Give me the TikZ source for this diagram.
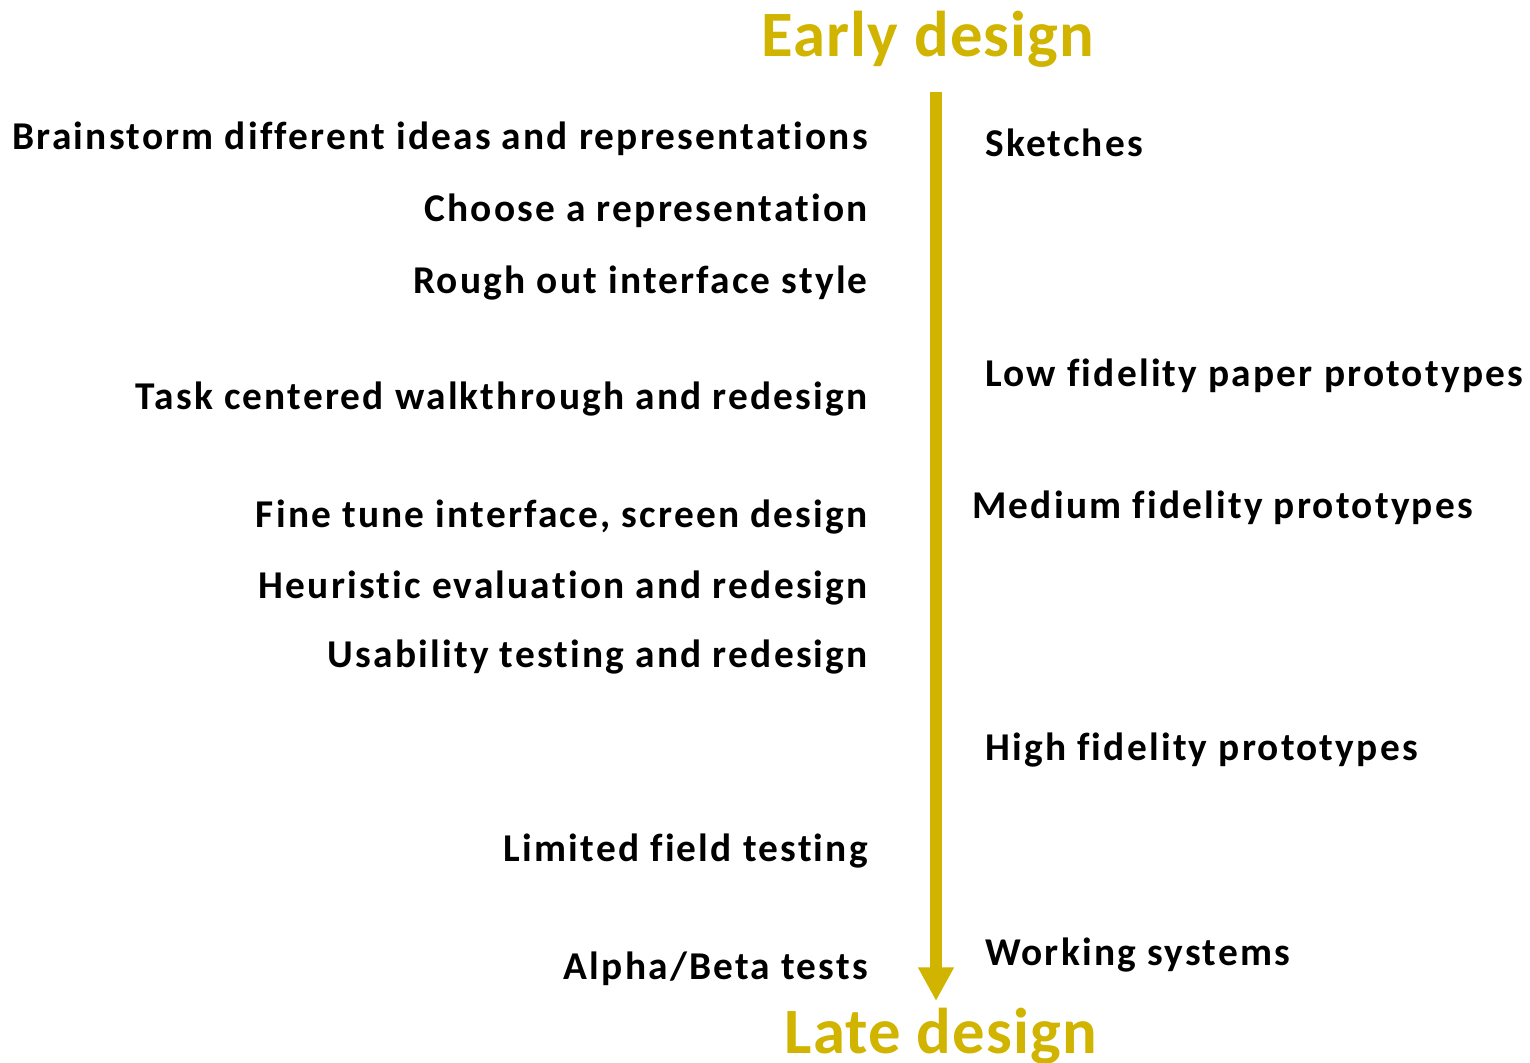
\documentclass[tikz,border=0pt]{standalone}
\usepackage{fontspec}
\setmainfont{Carlito}[Ligatures={NoCommon}]
\newfontfamily\stagefont{Carlito}[Ligatures={NoCommon}, LetterSpace=5.6]
\newfontfamily\titlefont{Carlito}[Ligatures={NoCommon}, LetterSpace=1.8]
\usetikzlibrary{arrows.meta, positioning}
\definecolor{phasegold}{HTML}{D0B400}

\begin{document}
\begin{tikzpicture}[
    x=0.025cm, y=-0.025cm,
    stage/.style={font=\stagefont\bfseries\fontsize{28}{32}\selectfont, text=black, inner sep=0pt},
    task/.style={stage, anchor=base east},
    proto/.style={stage, anchor=base west},
    title/.style={font=\titlefont\bfseries\fontsize{46}{52}\selectfont, text=phasegold, inner sep=0pt, anchor=base},
    timeline/.style={-{Triangle[length=24pt, width=24pt]}, phasegold, line width=12*0.025cm},
  ]
  \useasboundingbox (0,0) rectangle (1530,1063);

  \node[title] (early) at (928,57) {Early design};
  \node[title] (late) at (941,1053) {Late design};

  \coordinate (tstart) at (936,92);
  \coordinate (tend) at (936,1001);
  \draw[timeline] (tstart) -- (tend);

  \node[task] (t1) at (868,150) {Brainstorm different ideas and representations};
  \node[task] (t2) at (868,222) {Choose a representation};
  \node[task] (t3) at (868,293) {Rough out interface style};
  \node[task] (t4) at (868,409) {Task centered walkthrough and redesign};
  \node[task] (t5) at (868,527) {Fine tune interface, screen design};
  \node[task] (t6) at (868,598) {Heuristic evaluation and redesign};
  \node[task] (t7) at (868,667) {Usability testing and redesign};
  \node[task] (t8) at (868,861) {Limited field testing};
  \node[task] (t9) at (868,979) {Alpha/Beta tests};

  \node[proto] (p1) at (985,157) {Sketches};
  \node[proto] (p2) at (985,386) {Low fidelity paper prototypes};
  \node[proto] (p3) at (972,518) {Medium fidelity prototypes};
  \node[proto] (p4) at (985,760) {High fidelity prototypes};
  \node[proto] (p5) at (985,965) {Working systems};
\end{tikzpicture}
\end{document}
